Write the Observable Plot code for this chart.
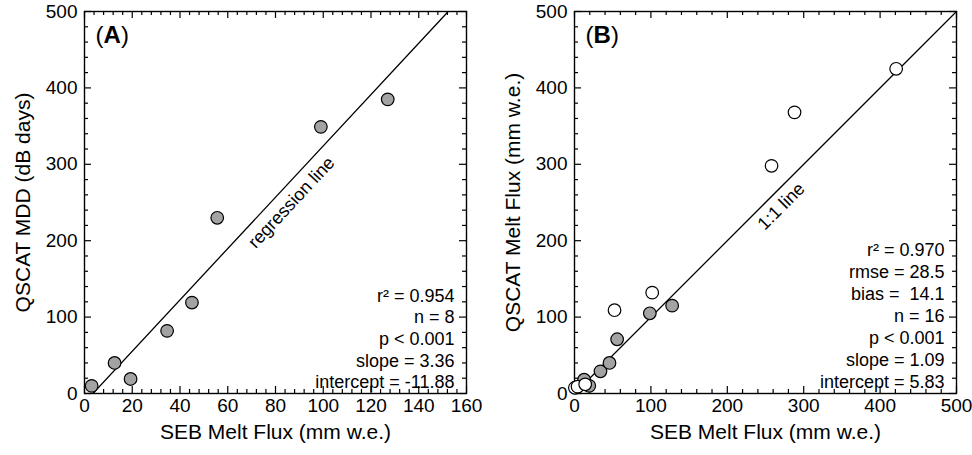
<!DOCTYPE html>
<html><head><meta charset="utf-8">
<script src="https://cdn.jsdelivr.net/npm/d3@7"></script>
<script src="https://cdn.jsdelivr.net/npm/@observablehq/plot@0.6"></script>
<style>
body{margin:0;background:#fff;}
#wrap{display:flex;width:972px;height:455px;}
</style></head><body><div id="wrap"></div>
<script>
// ---------- Data ----------
// Panel A: SEB melt flux vs QSCAT MDD
const sebA = [3, 12.6, 19.3, 34.6, 45, 55.6, 99, 127];
const mddA = [10, 40, 19, 82, 119, 230, 349, 385];
const statsA = ["r\u00b2 = 0.954", "n = 8", "p < 0.001", "slope = 3.36", "intercept = -11.88"];
const regSlope = 3.36, regIntercept = -11.88;

// Panel B: SEB melt flux vs QSCAT melt flux
const sebBGray = [3, 12.6, 19.3, 34, 45.8, 55.8, 98.6, 127.8];
const qscatBGray = [8, 18, 10, 29, 40, 71, 105, 115];
const sebBOpen = [0.5, 4, 14, 52.4, 101.7, 257.9, 288, 421];
const qscatBOpen = [7.5, 9, 12, 109, 132, 298, 368, 425];
const statsB = ["r\u00b2 = 0.970", "rmse = 28.5", "bias = \u00a014.1", "n = 16", "p < 0.001", "slope = 1.09", "intercept = 5.83"];

// Tick labels
const xTicksA = [0, 20, 40, 60, 80, 100, 120, 140, 160];
const xTicksB = [0, 100, 200, 300, 400, 500];
const yTicks = [0, 100, 200, 300, 400, 500];
const xMinorA = d3.range(0, 161, 4).filter(v => v % 20 !== 0);
const xMinorB = d3.range(0, 501, 20).filter(v => v % 100 !== 0);
const yMinor = d3.range(0, 501, 20).filter(v => v % 100 !== 0);

// ---------- Helpers ----------
const FONT = '"Liberation Sans", Arial, Helvetica, sans-serif';
const INNER = 382; // frame size in px (both panels)
const MAJ = 7, MIN = 4, TW = 1.2;
function frameAxes(xMax, yMax, xMajor, xMinor, yMajor, yMinor) {
  const ux = xMax / INNER, uy = yMax / INNER; // data units per pixel
  const tx = (ticks, len) => [
    Plot.ruleX(ticks, {x: d => d, y1: 0, y2: len * uy, stroke: "black", strokeWidth: TW}),
    Plot.ruleX(ticks, {x: d => d, y1: yMax, y2: yMax - len * uy, stroke: "black", strokeWidth: TW})
  ];
  const ty = (ticks, len) => [
    Plot.ruleY(ticks, {y: d => d, x1: 0, x2: len * ux, stroke: "black", strokeWidth: TW}),
    Plot.ruleY(ticks, {y: d => d, x1: xMax, x2: xMax - len * ux, stroke: "black", strokeWidth: TW})
  ];
  return [
    Plot.axisX(xMajor, {anchor: "bottom", tickSize: 0, tickPadding: 5, fontSize: 19, label: null}),
    Plot.axisY(yMajor, {anchor: "left", tickSize: 0, tickPadding: 7, fontSize: 19, label: null}),
    ...tx(xMajor, MAJ), ...tx(xMinor, MIN),
    ...ty(yMajor, MAJ), ...ty(yMinor, MIN),
    Plot.frame({stroke: "black", strokeWidth: 1.4})
  ];
}
function panelLabel(letter) {
  return [
    Plot.text(["("], {frameAnchor: "top-left", textAnchor: "start", lineAnchor: "top", dx: 11, dy: 14, fontSize: 24}),
    Plot.text([letter], {frameAnchor: "top-left", textAnchor: "start", lineAnchor: "top", dx: 19, dy: 14, fontSize: 24, fontWeight: "bold"}),
    Plot.text([")"], {frameAnchor: "top-left", textAnchor: "start", lineAnchor: "top", dx: 36.5, dy: 14, fontSize: 24})
  ];
}
const pts = (xs, ys) => xs.map((x, i) => ({x, y: ys[i]}));

// ---------- Panel A ----------
const regLine = [
  {x: (0 - regIntercept) / regSlope, y: 0},
  {x: (500 - regIntercept) / regSlope, y: 500}
];
const plotA = Plot.plot({
  width: 486, height: 455,
  marginLeft: 84, marginRight: 20, marginTop: 11, marginBottom: 62,
  style: {fontFamily: FONT, color: "black", background: "white"},
  x: {domain: [0, 160]},
  y: {domain: [0, 500]},
  marks: [
    ...frameAxes(160, 500, xTicksA, xMinorA, yTicks, yMinor),
    Plot.line(regLine, {x: "x", y: "y", stroke: "black", strokeWidth: 1.3, clip: true}),
    Plot.dot(pts(sebA, mddA), {x: "x", y: "y", r: 6.3, fill: "#a3a3a3", stroke: "black", strokeWidth: 1.2}),
    Plot.text(["regression line"], {x: () => 86.7, y: () => 250, rotate: -47, fontSize: 18}),
    Plot.text([statsA.join("\n")], {frameAnchor: "bottom-right", textAnchor: "end", lineAnchor: "bottom", dx: -12, dy: -5.5, fontSize: 18, lineHeight: 1.195}),
    Plot.text(["SEB Melt Flux (mm w.e.)"], {frameAnchor: "bottom", textAnchor: "middle", dy: 45, fontSize: 21}),
    Plot.text(["QSCAT MDD (dB days)"], {frameAnchor: "left", textAnchor: "middle", dx: -61, rotate: -90, fontSize: 21}),
    ...panelLabel("A")
  ]
});

// ---------- Panel B ----------
const oneToOne = [{x: 0, y: 0}, {x: 500, y: 500}];
const plotB = Plot.plot({
  width: 486, height: 455,
  marginLeft: 88, marginRight: 16, marginTop: 11, marginBottom: 62,
  style: {fontFamily: FONT, color: "black", background: "white"},
  x: {domain: [0, 500]},
  y: {domain: [0, 500]},
  marks: [
    ...frameAxes(500, 500, xTicksB, xMinorB, yTicks, yMinor),
    Plot.line(oneToOne, {x: "x", y: "y", stroke: "black", strokeWidth: 1.3}),
    Plot.dot(pts(sebBGray, qscatBGray), {x: "x", y: "y", r: 6.3, fill: "#a3a3a3", stroke: "black", strokeWidth: 1.2}),
    Plot.dot(pts(sebBOpen, qscatBOpen), {x: "x", y: "y", r: 6.3, fill: "white", stroke: "black", strokeWidth: 1.2}),
    Plot.text(["1:1 line"], {x: () => 270.7, y: () => 245, rotate: -45, fontSize: 18}),
    Plot.text([statsB.join("\n")], {frameAnchor: "bottom-right", textAnchor: "end", lineAnchor: "bottom", dx: -12, dy: -6, fontSize: 18, lineHeight: 1.22}),
    Plot.text(["SEB Melt Flux (mm w.e.)"], {frameAnchor: "bottom", textAnchor: "middle", dy: 45, fontSize: 21}),
    Plot.text(["QSCAT Melt Flux (mm w.e.)"], {frameAnchor: "left", textAnchor: "middle", dx: -61, rotate: -90, fontSize: 21}),
    ...panelLabel("B")
  ]
});

document.getElementById("wrap").append(plotA, plotB);
</script>
</body></html>
